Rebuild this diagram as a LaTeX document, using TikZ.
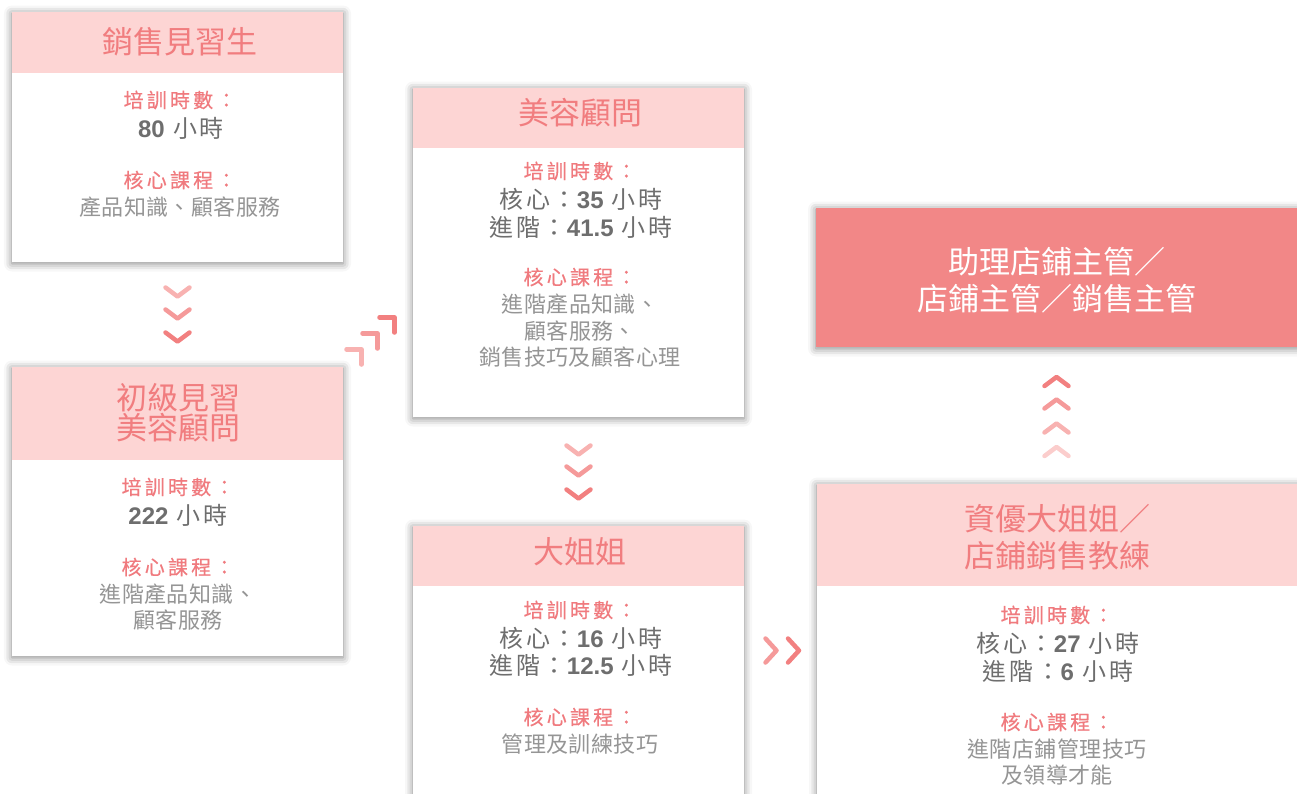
\documentclass[tikz,border=0pt]{standalone}
\usepackage{fontspec}
\setmainfont{Noto Sans CJK TC}
\newfontfamily\cjklbl{Noto Sans CJK TC}[LetterSpace=16,FakeBold=0.5]
\newfontfamily\cjkval{Noto Sans CJK TC}[LetterSpace=12]
\newfontfamily\cjkcrs{Noto Sans CJK TC}[LetterSpace=2]
\newfontfamily\numfont{Liberation Sans}
\newcommand\bnum[1]{{\numfont\bfseries #1}}
\usetikzlibrary{shadows.blur,calc}
\definecolor{hdrfill}{HTML}{FDD5D4}
\definecolor{hdrtext}{HTML}{F17D7F}
\definecolor{lblc}{HTML}{F07A7E}
\definecolor{valc}{HTML}{6E6E6E}
\definecolor{crsc}{HTML}{959595}
\definecolor{darkbox}{HTML}{F28787}
\definecolor{chevA}{HTML}{F28080}
\definecolor{chevB}{HTML}{F59A9A}
\definecolor{chevC}{HTML}{F8B2B1}
\definecolor{chevD}{HTML}{FBCDCC}
\tikzset{
  cardbody/.style={fill=white, anchor=north west, inner sep=0pt, outer sep=0pt,
    blur shadow={shadow xshift=0pt, shadow yshift=-1.5pt, shadow blur radius=8pt, shadow opacity=50}},
  cardtop/.style={fill=hdrfill, anchor=north west, inner sep=0pt, outer sep=0pt},
  darkcard/.style={fill=darkbox, anchor=north west, inner sep=0pt, outer sep=0pt,
    blur shadow={shadow xshift=0pt, shadow yshift=-1.5pt, shadow blur radius=8pt, shadow opacity=50}},
  htxt/.style={text=hdrtext, font=\fontsize{31}{31}\selectfont, inner sep=0pt},
  wtxt/.style={text=white, font=\fontsize{31}{37}\selectfont, inner sep=0pt, align=center},
  lbl/.style={text=lblc, font=\cjklbl\fontsize{20}{24}\selectfont, inner sep=0pt},
  val/.style={text=valc, font=\cjkval\fontsize{24}{28}\selectfont, inner sep=0pt, align=center},
  crs/.style={text=crsc, font=\cjkcrs\fontsize{22}{26.5}\selectfont, inner sep=0pt, align=center},
  chev/.style={line width=4.5pt, line cap=round, line join=round},
}
\begin{document}
\begin{tikzpicture}[x=1pt,y=-1pt]
\useasboundingbox (0,0) rectangle (1297,794);
\clip (0,0) rectangle (1297,794);
% card 1
\node[cardbody, minimum width=331, minimum height=250] (c1) at (12,12) {};
\node[cardtop, minimum width=331, minimum height=61] (c1top) at (12,12) {};
\node[htxt] (c1h) at (180,42) {銷售見習生};
\node[lbl] (c1l1) at (180,100) {培訓時數：};
\node[val] (c1v) at (181,128) {\bnum{80} 小時};
\node[lbl] (c1l2) at (180,180) {核心課程：};
\node[crs] (c1c) at (180,207) {產品知識、顧客服務};
% card 2
\node[cardbody, minimum width=331, minimum height=289] (c2) at (12,367) {};
\node[cardtop, minimum width=331, minimum height=93] (c2top) at (12,367) {};
\node[htxt, align=center, font=\fontsize{31}{30}\selectfont] (c2h) at (178,413) {初級見習\\美容顧問};
\node[lbl] (c2l1) at (178,487) {培訓時數：};
\node[val] (c2v) at (178,515) {\bnum{222} 小時};
\node[lbl] (c2l2) at (178,567) {核心課程：};
\node[crs] (c2c) at (178,607) {進階產品知識、\\顧客服務};
% card 3
\node[cardbody, minimum width=331, minimum height=329] (c3) at (413,88) {};
\node[cardtop, minimum width=331, minimum height=60] (c3top) at (413,88) {};
\node[htxt] (c3h) at (580,113) {美容顧問};
\node[lbl] (c3l1) at (580,171) {培訓時數：};
\node[val] (c3v) at (581,213) {核心：\bnum{35} 小時\\進階：\bnum{41.5} 小時};
\node[lbl] (c3l2) at (580,277) {核心課程：};
\node[crs] (c3c) at (580,331) {進階產品知識、\\顧客服務、\\銷售技巧及顧客心理};
% card 4
\node[cardbody, minimum width=331, minimum height=300] (c4) at (413,526) {};
\node[cardtop, minimum width=331, minimum height=60] (c4top) at (413,526) {};
\node[htxt] (c4h) at (580,552) {大姐姐};
\node[lbl] (c4l1) at (580,610) {培訓時數：};
\node[val, font=\cjkval\fontsize{24}{27}\selectfont] (c4v) at (581,651.5) {核心：\bnum{16} 小時\\進階：\bnum{12.5} 小時};
\node[lbl] (c4l2) at (580,717) {核心課程：};
\node[crs] (c4c) at (580,744) {管理及訓練技巧};
% card 5
\node[darkcard, minimum width=490, minimum height=139] (c5) at (816,208) {};
\node[wtxt] (c5t) at (1057,280.5) {助理店鋪主管／\\店鋪主管／銷售主管};
% card 6
\node[cardbody, minimum width=490, minimum height=330] (c6) at (817,484) {};
\node[cardtop, minimum width=490, minimum height=102] (c6top) at (817,484) {};
\node[htxt, align=center, font=\fontsize{31}{37}\selectfont] (c6h) at (1057,537.5) {資優大姐姐／\\店鋪銷售教練};
\node[lbl] (c6l1) at (1057,615) {培訓時數：};
\node[val] (c6v) at (1058,657) {核心：\bnum{27} 小時\\進階：\bnum{6} 小時};
\node[lbl] (c6l2) at (1057,722) {核心課程：};
\node[crs] (c6c) at (1057,762) {進階店鋪管理技巧\\及領導才能};
% chevrons between card 1 and card 2
\coordinate (a12) at ($(c1.south)!0.5!(c2.north)$);
\draw[chev, chevC, shift={($(a12)+(0,-22.5)$)}] (-12,-4.5) -- (0,4.5) -- (12,-4.5);
\draw[chev, chevB, shift={($(a12)+(0,-0.5)$)}] (-12,-4.5) -- (0,4.5) -- (12,-4.5);
\draw[chev, chevA, shift={($(a12)+(0,22.5)$)}] (-12,-4.5) -- (0,4.5) -- (12,-4.5);
% corner chevrons between card 2 and card 3
\draw[chev, chevC] (346.5,349.5) -- (361.5,349.5) -- (361.5,364.5);
\draw[chev, chevB] (362.5,333.5) -- (377.5,333.5) -- (377.5,348.5);
\draw[chev, chevA] (379.5,317.5) -- (394.5,317.5) -- (394.5,332.5);
% chevrons between card 3 and card 4
\coordinate (a34) at ($(c3.south)!0.5!(c4.north)$);
\draw[chev, chevC, shift={($(a34)+(0,-21.5)$)}] (-12,-4.5) -- (0,4.5) -- (12,-4.5);
\draw[chev, chevB, shift={($(a34)+(0,-0.5)$)}] (-12,-4.5) -- (0,4.5) -- (12,-4.5);
\draw[chev, chevA, shift={($(a34)+(0,22.5)$)}] (-12,-4.5) -- (0,4.5) -- (12,-4.5);
% chevrons between card 4 and card 6
\coordinate (a46) at (782,650.5);
\draw[chev, chevB, shift={($(a46)+(-11,0)$)}] (-5.5,-12) -- (5.5,0) -- (-5.5,12);
\draw[chev, chevA, shift={($(a46)+(11.5,0)$)}] (-5.5,-12) -- (5.5,0) -- (-5.5,12);
% chevrons between card 6 and card 5
\coordinate (a65) at (1056.5,416);
\draw[chev, chevA, shift={($(a65)+(0,-34.5)$)}] (-12,4.5) -- (0,-4.5) -- (12,4.5);
\draw[chev, chevB, shift={($(a65)+(0,-12)$)}] (-12,4.5) -- (0,-4.5) -- (12,4.5);
\draw[chev, chevC, shift={($(a65)+(0,12)$)}] (-12,4.5) -- (0,-4.5) -- (12,4.5);
\draw[chev, chevD, shift={($(a65)+(0,35.5)$)}] (-12,4.5) -- (0,-4.5) -- (12,4.5);
\end{tikzpicture}
\end{document}
